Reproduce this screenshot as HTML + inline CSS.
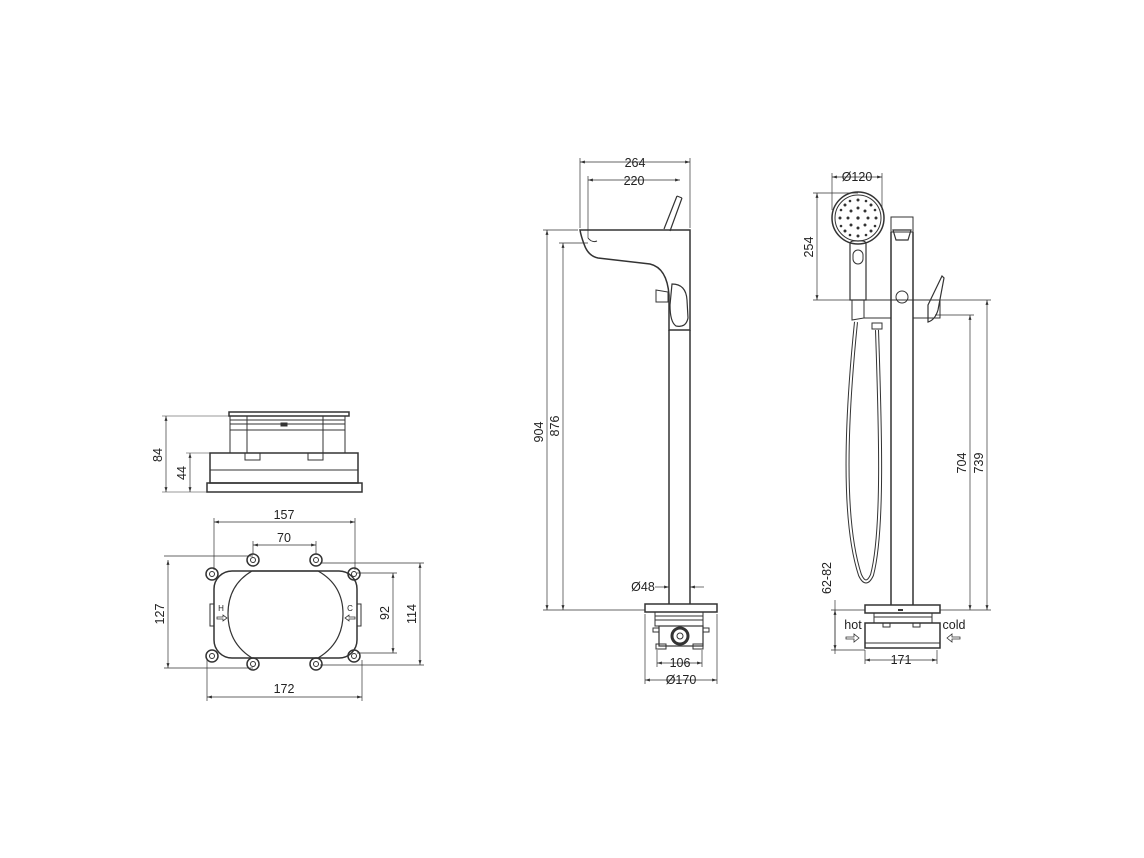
<!DOCTYPE html>
<html><head><meta charset="utf-8"><style>
html,body{margin:0;padding:0;background:#fff}
svg{display:block}
text{font-family:"Liberation Sans",sans-serif;font-size:12.5px;fill:#222}
</style></head><body>
<svg width="1144" height="858" viewBox="0 0 1144 858" xmlns="http://www.w3.org/2000/svg">
<defs>
<marker id="a" viewBox="0 0 10 10" refX="10" refY="5" markerWidth="7" markerHeight="7" orient="auto-start-reverse"><path d="M0,2 L10,5 L0,8 z" fill="#333"/></marker>
</defs>
<g fill="none" stroke="#333" stroke-width="1">
<rect x="229" y="412" width="120" height="4" stroke-width="1.5"/>
<line x1="230" y1="420" x2="345" y2="420"/><line x1="230" y1="424" x2="345" y2="424"/><line x1="230" y1="430" x2="345" y2="430"/>
<rect x="230" y="416" width="115" height="37"/>
<line x1="247" y1="416" x2="247" y2="453"/><line x1="323" y1="416" x2="323" y2="453"/>
<rect x="210" y="453" width="148" height="30" stroke-width="1.5"/>
<line x1="210" y1="470" x2="358" y2="470"/>
<rect x="207" y="483" width="155" height="9" stroke-width="1.5"/>
<rect x="245" y="453" width="15" height="7"/><rect x="308" y="453" width="15" height="7"/>
<rect x="281" y="423" width="6" height="3" fill="#333"/>
<line x1="166" y1="416" x2="166" y2="492" stroke-width="0.7" marker-start="url(#a)" marker-end="url(#a)"/>
<line x1="162" y1="416" x2="229" y2="416" stroke-width="0.5"/><line x1="162" y1="492" x2="207" y2="492" stroke-width="0.5"/>
<line x1="190" y1="453" x2="190" y2="492" stroke-width="0.7" marker-start="url(#a)" marker-end="url(#a)"/>
<line x1="186" y1="453" x2="210" y2="453" stroke-width="0.5"/>
<rect x="214" y="571" width="143" height="87" rx="18" stroke-width="1.5"/>
<path d="M252,571 L318,571 Q343,585 343,614 Q343,643 318,658 L252,658 Q228,643 228,614 Q228,585 252,571 Z" stroke-width="1.2"/>
<rect x="210" y="604" width="4" height="22"/><rect x="357" y="604" width="4" height="22"/>
<g stroke-width="1.5">
<circle cx="212" cy="574" r="6"/><circle cx="253" cy="560" r="6"/><circle cx="316" cy="560" r="6"/><circle cx="354" cy="574" r="6"/>
<circle cx="212" cy="656" r="6"/><circle cx="253" cy="664" r="6"/><circle cx="316" cy="664" r="6"/><circle cx="354" cy="656" r="6"/>
</g>
<g>
<circle cx="212" cy="574" r="2.5"/><circle cx="253" cy="560" r="2.5"/><circle cx="316" cy="560" r="2.5"/><circle cx="354" cy="574" r="2.5"/>
<circle cx="212" cy="656" r="2.5"/><circle cx="253" cy="664" r="2.5"/><circle cx="316" cy="664" r="2.5"/><circle cx="354" cy="656" r="2.5"/>
</g>
<path d="M217,617 h6 v-2 l4,3 l-4,3 v-2 h-6z" stroke-width="0.8"/>
<path d="M355,617 h-6 v-2 l-4,3 l4,3 v-2 h6z" stroke-width="0.8"/>
<g stroke-width="0.7">
<line x1="214" y1="522" x2="355" y2="522" marker-start="url(#a)" marker-end="url(#a)"/>
<line x1="214" y1="518" x2="214" y2="570"/><line x1="355" y1="518" x2="355" y2="570"/>
<line x1="253" y1="545" x2="316" y2="545" marker-start="url(#a)" marker-end="url(#a)"/>
<line x1="253" y1="541" x2="253" y2="554"/><line x1="316" y1="541" x2="316" y2="554"/>
<line x1="168" y1="560" x2="168" y2="668" marker-start="url(#a)" marker-end="url(#a)"/>
<line x1="164" y1="556" x2="253" y2="556"/><line x1="164" y1="668" x2="253" y2="668"/>
<line x1="393" y1="573" x2="393" y2="653" marker-start="url(#a)" marker-end="url(#a)"/>
<line x1="357" y1="573" x2="397" y2="573"/><line x1="357" y1="653" x2="397" y2="653"/>
<line x1="420" y1="563" x2="420" y2="665" marker-start="url(#a)" marker-end="url(#a)"/>
<line x1="320" y1="563" x2="424" y2="563"/><line x1="320" y1="665" x2="424" y2="665"/>
<line x1="207" y1="697" x2="362" y2="697" marker-start="url(#a)" marker-end="url(#a)"/>
<line x1="207" y1="660" x2="207" y2="701"/><line x1="362" y1="660" x2="362" y2="701"/>
</g>

<path d="M580,230 L690,230 L690,330 L669,330 L669,295 Q667,268 650,264 L598,258 Q588,256 584,244 Q581,236 580,230 Z" stroke-width="1.5"/>
<line x1="664" y1="229" x2="677" y2="196" stroke-width="1.2"/><line x1="670" y1="231" x2="682" y2="198" stroke-width="1.2"/>
<line x1="677" y1="196" x2="682" y2="198"/>
<path d="M588,238 Q592,243 597,241"/>
<path d="M672,284 Q686,284 687,300 L688,318 Q686,328 676,326 Q670,322 670,305 Z" stroke-width="1.2"/>
<path d="M656,290 L668,292 L668,302 L656,302 Z"/>
<line x1="669" y1="330" x2="669" y2="604" stroke-width="1.5"/><line x1="690" y1="330" x2="690" y2="604" stroke-width="1.5"/>
<rect x="645" y="604" width="72" height="8" stroke-width="1.5"/>
<rect x="655" y="612" width="48" height="14"/>
<line x1="655" y1="616" x2="703" y2="616"/><line x1="655" y1="620" x2="703" y2="620"/>
<rect x="659" y="626" width="44" height="20" stroke-width="1.2"/>
<rect x="653" y="628" width="6" height="4"/><rect x="703" y="628" width="6" height="4"/>
<rect x="656" y="644" width="10" height="5"/><rect x="693" y="644" width="10" height="5"/>
<circle cx="680" cy="636" r="8" stroke-width="3"/><circle cx="680" cy="636" r="3"/>
<g stroke-width="0.7">
<line x1="580" y1="162" x2="690" y2="162" marker-start="url(#a)" marker-end="url(#a)"/>
<line x1="580" y1="158" x2="580" y2="228"/><line x1="690" y1="158" x2="690" y2="228"/>
<line x1="588" y1="180" x2="680" y2="180" marker-start="url(#a)" marker-end="url(#a)"/>
<line x1="588" y1="176" x2="588" y2="238"/>
<line x1="547" y1="230" x2="547" y2="610" marker-start="url(#a)" marker-end="url(#a)"/>
<line x1="543" y1="230" x2="578" y2="230"/><line x1="543" y1="610" x2="645" y2="610"/>
<line x1="563" y1="243" x2="563" y2="610" marker-start="url(#a)" marker-end="url(#a)"/>
<line x1="559" y1="243" x2="588" y2="243"/>
<line x1="655" y1="587" x2="669" y2="587" marker-end="url(#a)"/><line x1="704" y1="587" x2="690" y2="587" marker-end="url(#a)"/>
<line x1="657" y1="663" x2="702" y2="663" marker-start="url(#a)" marker-end="url(#a)"/>
<line x1="657" y1="650" x2="657" y2="667"/><line x1="702" y1="650" x2="702" y2="667"/>
<line x1="645" y1="680" x2="717" y2="680" marker-start="url(#a)" marker-end="url(#a)"/>
<line x1="645" y1="614" x2="645" y2="684"/><line x1="717" y1="614" x2="717" y2="684"/>
</g>

<circle cx="858" cy="218" r="26" stroke-width="1.5"/>
<circle cx="858" cy="218" r="23"/>
<path d="M850,244 Q850,240 858,241 Q866,240 866,244 L866,300 L850,300 Z" stroke-width="1.2"/>
<rect x="853" y="250" width="10" height="14" rx="5"/>
<path d="M852,300 L864,300 L864,318 L852,320 Z"/>
<rect x="891" y="217" width="22" height="15"/>
<path d="M893,230 L911,230 L908,240 L896,240 Z" stroke-width="1.2"/>
<line x1="891" y1="232" x2="891" y2="605" stroke-width="1.5"/><line x1="913" y1="232" x2="913" y2="605" stroke-width="1.5"/>
<path d="M864,300 L940,300 L940,318 L913,318"/>
<path d="M864,318 L891,318"/>
<circle cx="902" cy="297" r="6"/>
<path d="M928,305 L942,276 L944,278 L938,310 Q935,320 928,322 Z" stroke-width="1.2"/>
<rect x="872" y="323" width="10" height="6"/>
<path d="M856,322 C846,420 842,520 860,575 Q866,588 872,575 C884,530 880,420 877,330" stroke-width="4"/>
<path d="M856,322 C846,420 842,520 860,575 Q866,588 872,575 C884,530 880,420 877,330" stroke="#fff" stroke-width="2"/>
<rect x="865" y="605" width="75" height="8" stroke-width="1.5"/>
<rect x="874" y="613" width="58" height="10"/>
<line x1="874" y1="617" x2="932" y2="617"/>
<rect x="865" y="623" width="75" height="25" stroke-width="1.5"/>
<line x1="865" y1="643" x2="940" y2="643"/>
<rect x="883" y="623" width="7" height="4"/><rect x="913" y="623" width="7" height="4"/>
<path d="M846,637 h8 v-3 l5,4 l-5,4 v-3 h-8z" stroke-width="0.8"/>
<path d="M960,637 h-8 v-3 l-5,4 l5,4 v-3 h8z" stroke-width="0.8"/>
<g stroke-width="0.7">
<line x1="832" y1="177" x2="882" y2="177" marker-start="url(#a)" marker-end="url(#a)"/>
<line x1="832" y1="173" x2="832" y2="210"/><line x1="882" y1="173" x2="882" y2="210"/>
<line x1="817" y1="193" x2="817" y2="300" marker-start="url(#a)" marker-end="url(#a)"/>
<line x1="813" y1="193" x2="858" y2="193"/><line x1="813" y1="300" x2="850" y2="300"/>
<line x1="970" y1="315" x2="970" y2="610" marker-start="url(#a)" marker-end="url(#a)"/>
<line x1="935" y1="315" x2="974" y2="315"/>
<line x1="987" y1="300" x2="987" y2="610" marker-start="url(#a)" marker-end="url(#a)"/>
<line x1="940" y1="300" x2="991" y2="300"/><line x1="940" y1="610" x2="991" y2="610"/>
<line x1="835" y1="610" x2="835" y2="650" marker-start="url(#a)" marker-end="url(#a)"/>
<line x1="831" y1="610" x2="865" y2="610"/><line x1="831" y1="650" x2="865" y2="650"/>
<line x1="835" y1="600" x2="835" y2="654"/>
<line x1="865" y1="660" x2="937" y2="660" marker-start="url(#a)" marker-end="url(#a)"/>
<line x1="865" y1="650" x2="865" y2="664"/><line x1="937" y1="650" x2="937" y2="664"/>
</g>
</g>
<g fill="#333">
<circle cx="858" cy="218" r="1.6"/>
<circle cx="858" cy="208" r="1.5"/><circle cx="858" cy="228" r="1.5"/><circle cx="848" cy="218" r="1.5"/><circle cx="868" cy="218" r="1.5"/>
<circle cx="851" cy="211" r="1.5"/><circle cx="865" cy="211" r="1.5"/><circle cx="851" cy="225" r="1.5"/><circle cx="865" cy="225" r="1.5"/>
<circle cx="858" cy="200" r="1.5"/><circle cx="858" cy="236" r="1.5"/><circle cx="840" cy="218" r="1.5"/><circle cx="876" cy="218" r="1.5"/>
<circle cx="845" cy="205" r="1.5"/><circle cx="871" cy="205" r="1.5"/><circle cx="845" cy="231" r="1.5"/><circle cx="871" cy="231" r="1.5"/>
<circle cx="850" cy="201" r="1.3"/><circle cx="866" cy="201" r="1.3"/><circle cx="841" cy="210" r="1.3"/><circle cx="875" cy="210" r="1.3"/>
<circle cx="841" cy="226" r="1.3"/><circle cx="875" cy="226" r="1.3"/><circle cx="850" cy="235" r="1.3"/><circle cx="866" cy="235" r="1.3"/>
<rect x="898" y="609" width="5" height="2"/>
</g>
<g>
<text x="162" y="455" text-anchor="middle" transform="rotate(-90 162 455)">84</text>
<text x="186" y="473" text-anchor="middle" transform="rotate(-90 186 473)">44</text>
<text x="284" y="519" text-anchor="middle">157</text>
<text x="284" y="542" text-anchor="middle">70</text>
<text x="164" y="614" text-anchor="middle" transform="rotate(-90 164 614)">127</text>
<text x="389" y="613" text-anchor="middle" transform="rotate(-90 389 613)">92</text>
<text x="416" y="614" text-anchor="middle" transform="rotate(-90 416 614)">114</text>
<text x="284" y="693" text-anchor="middle">172</text>
<text x="221" y="611" text-anchor="middle" style="font-size:8px">H</text>
<text x="350" y="611" text-anchor="middle" style="font-size:8px">C</text>
<text x="635" y="167" text-anchor="middle">264</text>
<text x="634" y="185" text-anchor="middle">220</text>
<text x="543" y="432" text-anchor="middle" transform="rotate(-90 543 432)">904</text>
<text x="559" y="426" text-anchor="middle" transform="rotate(-90 559 426)">876</text>
<text x="643" y="591" text-anchor="middle">Ø48</text>
<text x="680" y="667" text-anchor="middle">106</text>
<text x="681" y="684" text-anchor="middle">Ø170</text>
<text x="857" y="181" text-anchor="middle">Ø120</text>
<text x="813" y="247" text-anchor="middle" transform="rotate(-90 813 247)">254</text>
<text x="966" y="463" text-anchor="middle" transform="rotate(-90 966 463)">704</text>
<text x="983" y="463" text-anchor="middle" transform="rotate(-90 983 463)">739</text>
<text x="831" y="578" text-anchor="middle" transform="rotate(-90 831 578)">62-82</text>
<text x="853" y="629" text-anchor="middle">hot</text>
<text x="954" y="629" text-anchor="middle">cold</text>
<text x="901" y="664" text-anchor="middle">171</text>
</g>
</svg>
</body></html>
